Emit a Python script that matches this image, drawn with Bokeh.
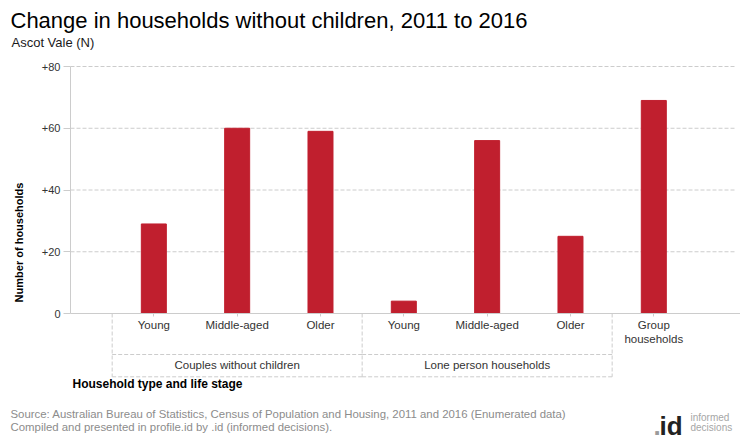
import math
from bokeh.plotting import figure
from bokeh.models import Range1d, FixedTicker
from bokeh.core.properties import value
from bokeh.embed import file_html
from bokeh.resources import INLINE

# ---------------- data ----------------
life_stages = ["Young", "Middle-aged", "Older", "Young", "Middle-aged", "Older", "Group\nhouseholds"]
change = [29, 60, 59, 4, 56, 25, 69]
group_names = ["Couples without children", "Lone person households"]
group_first = [0, 3]
group_last = [2, 5]
y_ticks = [0, 20, 40, 60, 80]
y_tick_labels = ["0", "+20", "+40", "+60", "+80"]

title_text = "Change in households without children, 2011 to 2016"
subtitle_text = "Ascot Vale (N)"
y_title = "Number of households"
x_title = "Household type and life stage"
source1 = "Source: Australian Bureau of Statistics, Census of Population and Housing, 2011 and 2016 (Enumerated data)"
source2 = "Compiled and presented in profile.id by .id (informed decisions)."

# ---------------- layout (pixels of the 740x440 canvas) ----------------
FONT = "Liberation Sans"
W, H = 740, 440
AXIS_X = 70      # pixel x of the value axis
AXIS_Y = 313     # pixel y of value 0
TOP_Y = 66       # pixel y of the top tick
GRID_R = 735     # right end of grid lines
PXU_X = 83.33    # pixels per category
PXU_Y = (AXIS_Y - TOP_Y) / y_ticks[-1]
X_MIN = -1       # category coordinate of the value axis

x0 = X_MIN - AXIS_X / PXU_X
y1 = y_ticks[0] + AXIS_Y / PXU_Y


def dx(px):
    return x0 + px / PXU_X


def dy(py):
    return y1 - py / PXU_Y


GRID = "#cccccc"
BAR = "#C01F2E"
DASH = "4 2"
TXT = "#333333"

p = figure(width=W, height=H, output_backend="svg", toolbar_location=None,
           x_range=Range1d(x0, x0 + W / PXU_X), y_range=Range1d(y1 - H / PXU_Y, y1),
           min_border=0, min_border_left=0, min_border_right=0,
           min_border_top=0, min_border_bottom=0)
p.outline_line_color = None
p.xgrid.visible = False
p.ygrid.visible = False

xs = list(range(len(change)))

# grid lines
gy = y_ticks[1:]
p.segment(x0=[X_MIN] * len(gy), y0=gy, x1=[dx(GRID_R)] * len(gy), y1=gy,
          line_color=GRID, line_dash=DASH, line_width=1)

# bars
p.vbar(x=xs, top=change, bottom=0, width=0.3, fill_color=BAR, line_color=BAR)

# category axis, drawn at zero
xa = p.xaxis[0]
xa.fixed_location = 0
xa.bounds = (X_MIN, x0 + W / PXU_X)
xa.ticker = FixedTicker(ticks=xs)
xa.major_label_overrides = {i: s for i, s in enumerate(life_stages)}
xa.axis_line_color = GRID
xa.major_tick_line_color = GRID
xa.major_tick_out = 3
xa.major_tick_in = 0
xa.minor_tick_line_color = None
xa.major_label_standoff = 2
xa.major_label_text_font = FONT
xa.major_label_text_font_size = "11.5px"
xa.major_label_text_color = TXT

# value axis
ya = p.yaxis[0]
ya.fixed_location = X_MIN
ya.ticker = FixedTicker(ticks=y_ticks)
ya.bounds = (0, y_ticks[-1])
ya.major_label_overrides = {t: s for t, s in zip(y_ticks, y_tick_labels)}
ya.axis_line_color = GRID
ya.major_tick_line_color = GRID
ya.major_tick_out = 7
ya.major_tick_in = 0
ya.minor_tick_line_color = None
ya.major_label_standoff = 3
ya.major_label_text_font = FONT
ya.major_label_text_font_size = "11px"
ya.major_label_text_color = TXT

# group boxes below the category labels
ROW_TOP, ROW_BOT, ROW_MID, XT_Y = dy(354), dy(376.3), dy(364.5), dy(383)
bounds_x = sorted(set([f - 0.5 for f in group_first] + [l + 0.5 for l in group_last]))
p.segment(x0=bounds_x, y0=[0] * len(bounds_x), x1=bounds_x, y1=[ROW_BOT] * len(bounds_x),
          line_color=GRID, line_dash=DASH)
hx0 = [f - 0.5 for f in group_first] * 2
hx1 = [l + 0.5 for l in group_last] * 2
hy = [ROW_TOP] * len(group_first) + [ROW_BOT] * len(group_first)
p.segment(x0=hx0, y0=hy, x1=hx1, y1=hy, line_color=GRID, line_dash=DASH)
p.text(x=[(f + l) / 2 for f, l in zip(group_first, group_last)], y=[ROW_MID] * len(group_names),
       text=group_names, text_align="center", text_baseline="middle",
       text_font=value(FONT), text_font_size="11.5px", text_color=TXT)
p.text(x=[X_MIN], y=[XT_Y], x_offset=2, text=[x_title], text_align="left",
       text_baseline="middle", text_font=value(FONT), text_font_size="12px",
       text_font_style="bold", text_color="#000000")

# titles
p.text(x=[dx(10)], y=[dy(20)], text=[title_text], text_font=value(FONT), text_font_size="22px",
       text_color="#000000", text_baseline="alphabetic")
p.text(x=[dx(11)], y=[dy(42)], text=[subtitle_text], text_font=value(FONT), text_font_size="13px",
       text_color="#1a1a1a", text_baseline="alphabetic")
p.text(x=[dx(18)], y=[dy(242)], text=[y_title], angle=math.pi / 2, text_align="center",
       text_baseline="middle", text_font=value(FONT), text_font_size="11px",
       text_font_style="bold", text_color="#000000")

# footer
p.text(x=[dx(10), dx(10)], y=[dy(413), dy(426.5)], text=[source1, source2], text_font=value(FONT),
       text_font_size="11.4px", text_color="#8c8c8c", text_baseline="alphabetic")
p.text(x=[dx(653), dx(659)], y=[dy(425), dy(425)], text=[".", "id"], text_font=value(FONT),
       text_font_size="26px", text_font_style="bold", text_color=["#9a9a9a", "#222222"],
       text_baseline="alphabetic")
p.text(x=[dx(690), dx(690)], y=[dy(417), dy(427)], text=["informed", "decisions"],
       text_font=value(FONT), text_font_size="10px", text_color="#a6a6a6",
       text_baseline="alphabetic")

open("out.html", "w").write(file_html(p, INLINE))
